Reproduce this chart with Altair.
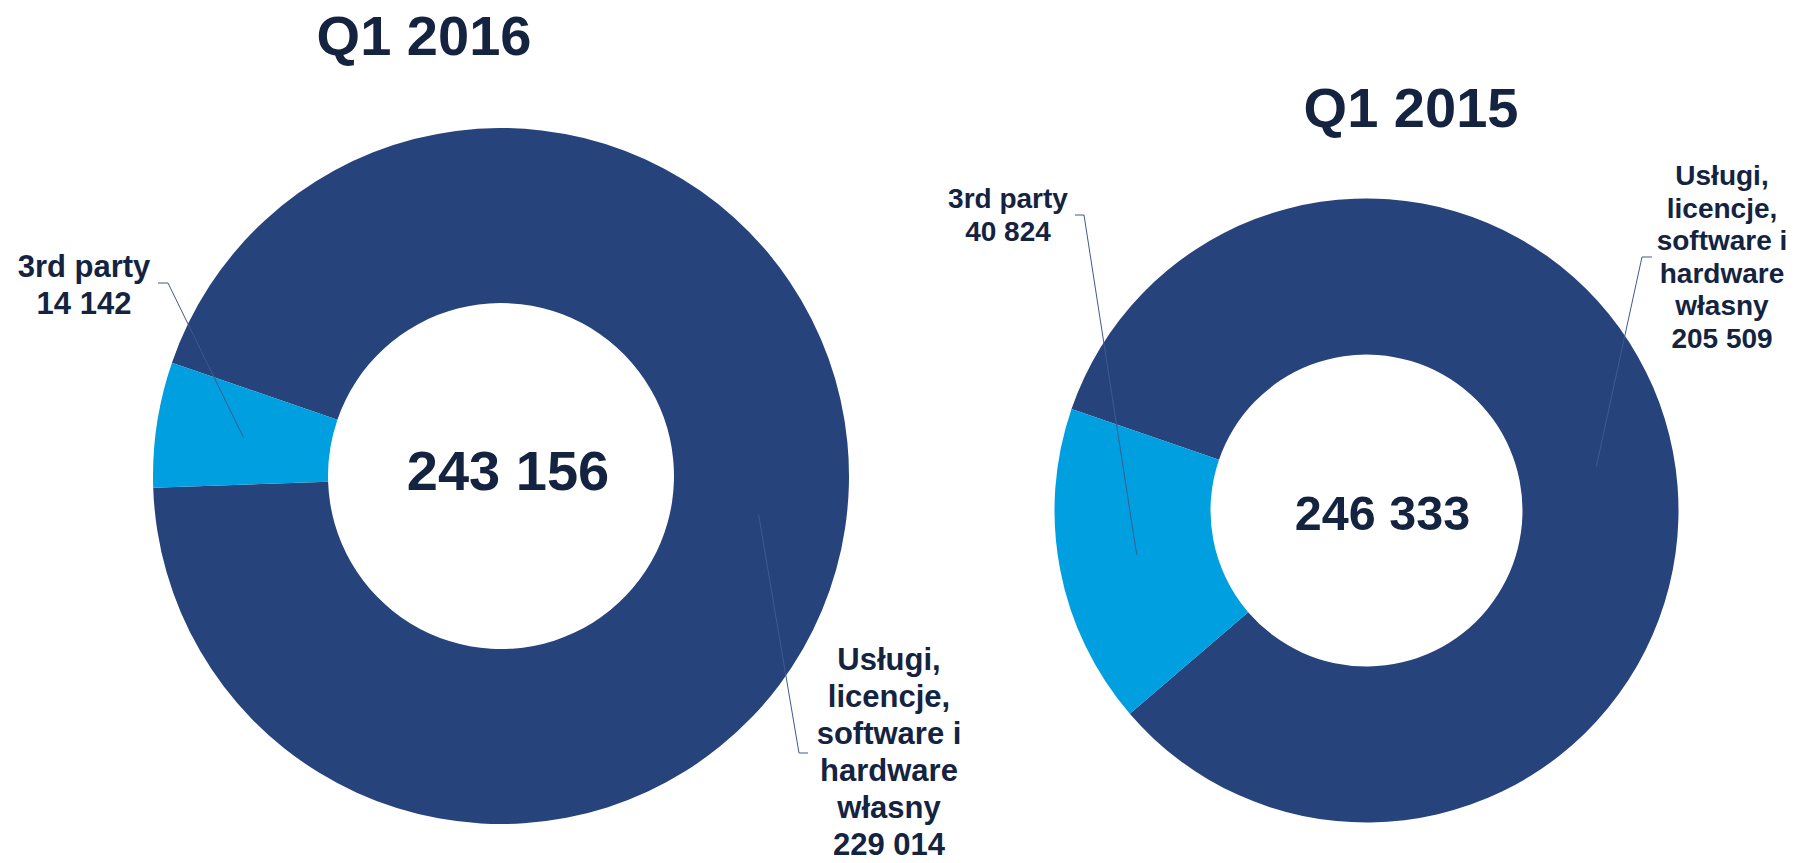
import math
import altair as alt
import pandas as pd

# ---------------- data ----------------
years = ["Q1 2016", "Q1 2015"]
categories = ["Usługi, licencje, software i hardware własny", "3rd party"]
category_lines = [["Usługi,", "licencje,", "software i", "hardware", "własny"], ["3rd party"]]
values_2016 = [229014, 14142]
values_2015 = [205509, 40824]
year_values = {"Q1 2016": values_2016, "Q1 2015": values_2015}


def fmt(v):
    return f"{v:,}".replace(",", " ")


rows = []
for y in years:
    for i, (cat, v) in enumerate(zip(categories, year_values[y])):
        rows.append({
            "year": y,
            "category": cat,
            "value": v,
            "ord": i,
            "label": "\n".join(category_lines[i] + [fmt(v)]),
        })
df = pd.DataFrame(rows)
totals = pd.DataFrame({"year": years, "total": [fmt(sum(year_values[y])) for y in years]})

# ---------------- styling / layout ----------------
DARK = "#27437C"
LIGHT = "#009FDF"
TEXT = "#14233F"
LEADER = "#3E5B8F"
FONT = "Liberation Sans"
M = 8  # page margin
START_DEG = 289.0
start = math.radians(START_DEG)

geom = {
    "Q1 2016": dict(cx=501, cy=476, r_in=173, r_out=348,
                    title=(424, 55), total=(508, 490, 56),
                    lab_font=31, lab_lh=37),
    "Q1 2015": dict(cx=1366.5, cy=510.5, r_in=156, r_out=312,
                    title=(1411, 127), total=(1382.5, 530, 48.5),
                    lab_font=28, lab_lh=32.5),
}
# label anchors (centre x, first baseline) and leader elbows for each slice
label_pos = {
    ("Q1 2016", 0): dict(x=889, y=670, elbow=(799, 753), tick=(808, 753)),
    ("Q1 2016", 1): dict(x=84, y=277, elbow=(168, 283), tick=(158, 283)),
    ("Q1 2015", 0): dict(x=1722, y=185, elbow=(1642, 257), tick=(1652, 257)),
    ("Q1 2015", 1): dict(x=1008, y=208, elbow=(1084, 215), tick=(1075, 215)),
}

theta_scale = alt.Scale(range=[start, start + 2 * math.pi])
color_scale = alt.Scale(domain=categories, range=[DARK, LIGHT])

layers = []
for y in years:
    g = geom[y]
    arc = alt.Chart(df).transform_filter(alt.datum.year == y).mark_arc(
        innerRadius=g["r_in"], outerRadius=g["r_out"], stroke=None
    ).encode(
        theta=alt.Theta("value:Q", stack="normalize", scale=theta_scale),
        color=alt.Color("category:N", scale=color_scale, legend=None),
        order=alt.Order("ord:Q"),
        x=alt.value(g["cx"] - M),
        y=alt.value(g["cy"] - M),
    )
    layers.append(arc)

# leader lines derived from slice mid-angles
seg = []
for y in years:
    g = geom[y]
    vals = year_values[y]
    tot = sum(vals)
    cum = 0.0
    for i, v in enumerate(vals):
        frac = v / tot
        mid = start + 2 * math.pi * (cum + frac / 2)
        cum += frac
        r = (g["r_in"] + g["r_out"]) / 2
        px = g["cx"] + r * math.sin(mid)
        py = g["cy"] - r * math.cos(mid)
        lp = label_pos[(y, i)]
        ex, ey = lp["elbow"]
        tx, ty = lp["tick"]
        seg.append({"x": px - M, "y": py - M, "x2": ex - M, "y2": ey - M})
        seg.append({"x": ex - M, "y": ey - M, "x2": tx - M, "y2": ty - M})
seg_df = pd.DataFrame(seg)
leaders = alt.Chart(seg_df).mark_rule(color=LEADER, strokeWidth=1).encode(
    x=alt.X("x:Q", scale=None, axis=None),
    y=alt.Y("y:Q", scale=None, axis=None),
    x2="x2:Q",
    y2="y2:Q",
)
layers.append(leaders)

for y in years:
    g = geom[y]
    # title
    tx, ty = g["title"]
    layers.append(
        alt.Chart(pd.DataFrame({"year": [y]})).mark_text(
            font=FONT, fontWeight="bold", fontSize=56, color=TEXT,
            align="center", baseline="alphabetic"
        ).encode(text="year:N", x=alt.value(tx - M), y=alt.value(ty - M))
    )
    # total in the hole
    cx, cy, fs = g["total"]
    layers.append(
        alt.Chart(totals).transform_filter(alt.datum.year == y).mark_text(
            font=FONT, fontWeight="bold", fontSize=fs, color=TEXT,
            align="center", baseline="alphabetic"
        ).encode(text="total:N", x=alt.value(cx - M), y=alt.value(cy - M))
    )
    # slice labels
    for i, cat in enumerate(categories):
        lp = label_pos[(y, i)]
        layers.append(
            alt.Chart(df).transform_filter(
                (alt.datum.year == y) & (alt.datum.ord == i)
            ).mark_text(
                font=FONT, fontWeight="bold", fontSize=g["lab_font"], color=TEXT,
                align="center", baseline="alphabetic", lineBreak="\n",
                lineHeight=g["lab_lh"],
            ).encode(text="label:N", x=alt.value(lp["x"] - M), y=alt.value(lp["y"] - M))
        )

chart = alt.layer(*layers).properties(
    width=1780, height=847,
    autosize=alt.AutoSizeParams(type="none"),
    padding=0,
    background="white",
).configure_view(stroke=None)

chart.save("out.html", embed_options={"renderer": "svg", "actions": False})
